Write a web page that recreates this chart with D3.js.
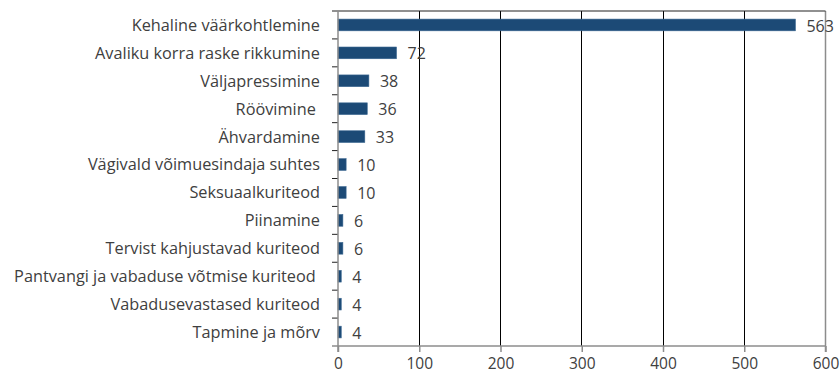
<!DOCTYPE html>
<html>
<head>
<meta charset="utf-8">
<script src="https://cdn.jsdelivr.net/npm/d3@7"></script>
<style>
  html, body { margin: 0; padding: 0; background: #fff; }
  svg { display: block; }
  text { white-space: pre; }
</style>
</head>
<body>
<svg id="chart" width="840" height="374"></svg>
<script>
// Offence categories, top to bottom
const categories = [
  "Kehaline väärkohtlemine",
  "Avaliku korra raske rikkumine",
  "Väljapressimine",
  "Röövimine ",
  "Ähvardamine",
  "Vägivald võimuesindaja suhtes",
  "Seksuaalkuriteod",
  "Piinamine",
  "Tervist kahjustavad kuriteod",
  "Pantvangi ja vabaduse võtmise kuriteod ",
  "Vabadusevastased kuriteod",
  "Tapmine ja mõrv"
];
// Number of cases per category
const values = [563, 72, 38, 36, 33, 10, 10, 6, 6, 4, 4, 4];
// X axis ticks
const xTicks = [0, 100, 200, 300, 400, 500, 600];

const svg = d3.select("#chart");
const margin = { left: 338, right: 14.5, top: 11, bottom: 28 };
const W = 840, H = 374;
const font = "'Open Sans', sans-serif";
const textColor = "#404040";
const axisGrey = "#8c8c8c";

const x = d3.scaleLinear().domain([0, 600]).range([margin.left, W - margin.right]);
const y = d3.scaleBand().domain(categories).range([margin.top, H - margin.bottom]).paddingInner(0.58).paddingOuter(0.29);
const yb = d3.scaleBand().domain(categories).range([margin.top, H - margin.bottom]);

const x0 = x(0), x1 = x(600), y0 = margin.top, y1 = H - margin.bottom;

// vertical gridlines
svg.append("g").selectAll("line")
  .data(xTicks.filter(t => t > 0 && t < 600))
  .join("line")
  .attr("x1", d => x(d)).attr("x2", d => x(d))
  .attr("y1", y0).attr("y2", y1)
  .attr("stroke", "#000").attr("stroke-width", 1)
  .attr("shape-rendering", "crispEdges");

// right border
svg.append("line")
  .attr("x1", x1).attr("x2", x1).attr("y1", y0).attr("y2", y1 + 6)
  .attr("stroke", axisGrey).attr("stroke-width", 1.5);

// top border
svg.append("line")
  .attr("x1", x0 - 6).attr("x2", x1).attr("y1", y0).attr("y2", y0)
  .attr("stroke", "#222").attr("stroke-width", 1.2);

// bars
svg.append("g").selectAll("rect")
  .data(values)
  .join("rect")
  .attr("x", x0)
  .attr("y", (d, i) => y(categories[i]))
  .attr("width", d => x(d) - x0)
  .attr("height", y.bandwidth())
  .attr("fill", "#1c4a76")
  .attr("stroke", "#3a6690").attr("stroke-width", 0.6);

// value labels
svg.append("g").selectAll("text")
  .data(values)
  .join("text")
  .attr("x", d => x(d) + 11)
  .attr("y", (d, i) => yb(categories[i]) + yb.bandwidth() / 2 + 1)
  .attr("dy", "0.35em")
  .attr("font-family", font).attr("font-size", 16)
  .attr("fill", textColor)
  .text(d => d);

// category axis
const yAxis = d3.axisLeft(yb).tickSize(0).tickPadding(18);
const gy = svg.append("g").attr("transform", `translate(${x0},0)`).call(yAxis);
gy.select(".domain").remove();
gy.selectAll("text")
  .attr("font-family", font).attr("font-size", 16.3).attr("fill", textColor)
  .attr("dy", "0.36em");

// band separators on the left axis
svg.append("g").selectAll("line")
  .data(categories.slice(1))
  .join("line")
  .attr("x1", x0 - 6).attr("x2", x0)
  .attr("y1", d => yb(d)).attr("y2", d => yb(d))
  .attr("stroke", "#222").attr("stroke-width", 1);

// left axis line
svg.append("line")
  .attr("x1", x0).attr("x2", x0).attr("y1", y0).attr("y2", y1 + 6)
  .attr("stroke", axisGrey).attr("stroke-width", 1.5);

// bottom axis
const xAxis = d3.axisBottom(x).tickValues(xTicks).tickSize(6).tickPadding(6).tickSizeOuter(0);
const gx = svg.append("g").attr("transform", `translate(0,${y1})`).call(xAxis);
gx.select(".domain").attr("stroke", axisGrey).attr("stroke-width", 1.5)
  .attr("d", `M${x0 - 6},0H${x1}`);
gx.selectAll(".tick line").attr("stroke", axisGrey).attr("stroke-width", 1.5);
gx.selectAll("text")
  .attr("font-family", font).attr("font-size", 15.5).attr("fill", textColor)
  .attr("dy", "0.68em");
</script>
</body>
</html>
